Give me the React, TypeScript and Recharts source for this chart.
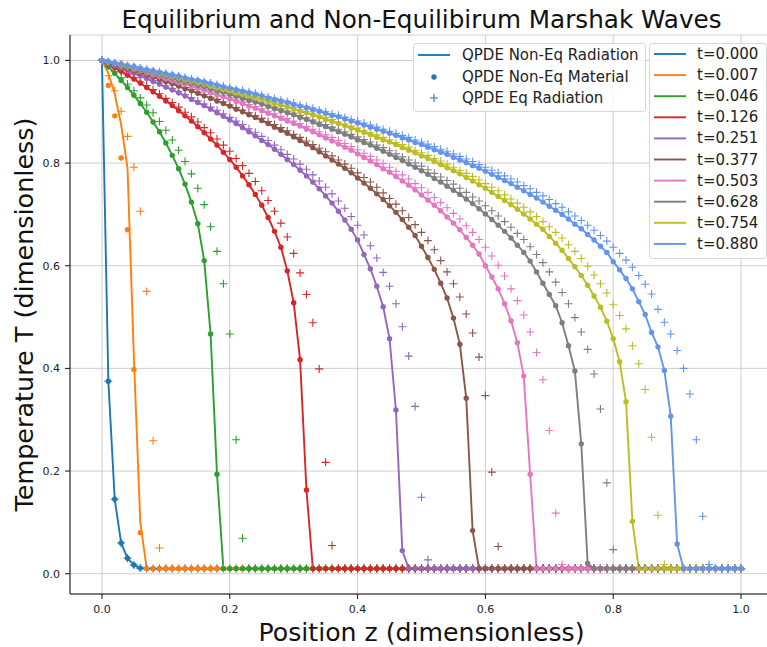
import { ComposedChart, Line, XAxis, YAxis, CartesianGrid } from "recharts";

// floor temperature ahead of every front
const F = 0.01;

const Z = [
  0, 0.01, 0.02, 0.03, 0.04, 0.05, 0.06, 0.07, 0.08, 0.09,
  0.1, 0.11, 0.12, 0.13, 0.14, 0.15, 0.16, 0.17, 0.18, 0.19,
  0.2, 0.21, 0.22, 0.23, 0.24, 0.25, 0.26, 0.27, 0.28, 0.29,
  0.3, 0.31, 0.32, 0.33, 0.34, 0.35, 0.36, 0.37, 0.38, 0.39,
  0.4, 0.41, 0.42, 0.43, 0.44, 0.45, 0.46, 0.47, 0.48, 0.49,
  0.5, 0.51, 0.52, 0.53, 0.54, 0.55, 0.56, 0.57, 0.58, 0.59,
  0.6, 0.61, 0.62, 0.63, 0.64, 0.65, 0.66, 0.67, 0.68, 0.69,
  0.7, 0.71, 0.72, 0.73, 0.74, 0.75, 0.76, 0.77, 0.78, 0.79,
  0.8, 0.81, 0.82, 0.83, 0.84, 0.85, 0.86, 0.87, 0.88, 0.89,
  0.9, 0.91, 0.92, 0.93, 0.94, 0.95, 0.96, 0.97, 0.98, 0.99,
  1,
];

const TIMES = ["0.000", "0.007", "0.046", "0.126", "0.251", "0.377", "0.503", "0.628", "0.754", "0.880"];
const COLORS = ["#1f77b4", "#ff7f0e", "#2ca02c", "#d62728", "#9467bd", "#8c564b", "#e377c2", "#7f7f7f", "#bcbd22", "#6495ed"];
const X_TICKS = [0, 0.2, 0.4, 0.6, 0.8, 1.0];
const Y_TICKS = [0, 0.2, 0.4, 0.6, 0.8, 1.0];

// t = 0.000 (initial profile, same for all three quantities)
const rad000 = [
  1, 0.375, 0.145, 0.06, 0.03, 0.017, 0.011, F, F, F,
  F, F, F, F, F, F, F, F, F, F,
  F, F, F, F, F, F, F, F, F, F,
  F, F, F, F, F, F, F, F, F, F,
  F, F, F, F, F, F, F, F, F, F,
  F, F, F, F, F, F, F, F, F, F,
  F, F, F, F, F, F, F, F, F, F,
  F, F, F, F, F, F, F, F, F, F,
  F, F, F, F, F, F, F, F, F, F,
  F, F, F, F, F, F, F, F, F, F,
  F,
];

// t = 0.007
const rad007 = [
  1, 0.975, 0.935, 0.875, 0.79, 0.42, 0.1, F, F, F,
  F, F, F, F, F, F, F, F, F, F,
  F, F, F, F, F, F, F, F, F, F,
  F, F, F, F, F, F, F, F, F, F,
  F, F, F, F, F, F, F, F, F, F,
  F, F, F, F, F, F, F, F, F, F,
  F, F, F, F, F, F, F, F, F, F,
  F, F, F, F, F, F, F, F, F, F,
  F, F, F, F, F, F, F, F, F, F,
  F, F, F, F, F, F, F, F, F, F,
  F,
];
const mat007 = [
  1, 0.951, 0.892, 0.81, 0.67, 0.398, 0.08, F, F, F,
  F, F, F, F, F, F, F, F, F, F,
  F, F, F, F, F, F, F, F, F, F,
  F, F, F, F, F, F, F, F, F, F,
  F, F, F, F, F, F, F, F, F, F,
  F, F, F, F, F, F, F, F, F, F,
  F, F, F, F, F, F, F, F, F, F,
  F, F, F, F, F, F, F, F, F, F,
  F, F, F, F, F, F, F, F, F, F,
  F, F, F, F, F, F, F, F, F, F,
  F,
];
const eq007 = [
  1, 0.97, 0.941, 0.901, 0.852, 0.792, 0.706, 0.55, 0.259, 0.05,
  F, F, F, F, F, F, F, F, F, F,
  F, F, F, F, F, F, F, F, F, F,
  F, F, F, F, F, F, F, F, F, F,
  F, F, F, F, F, F, F, F, F, F,
  F, F, F, F, F, F, F, F, F, F,
  F, F, F, F, F, F, F, F, F, F,
  F, F, F, F, F, F, F, F, F, F,
  F, F, F, F, F, F, F, F, F, F,
  F, F, F, F, F, F, F, F, F, F,
  F,
];

// t = 0.046
const rad046 = [
  1, 0.988, 0.975, 0.961, 0.947, 0.932, 0.916, 0.899, 0.88, 0.861,
  0.839, 0.815, 0.789, 0.759, 0.724, 0.682, 0.61, 0.467, 0.194, F,
  F, F, F, F, F, F, F, F, F, F,
  F, F, F, F, F, F, F, F, F, F,
  F, F, F, F, F, F, F, F, F, F,
  F, F, F, F, F, F, F, F, F, F,
  F, F, F, F, F, F, F, F, F, F,
  F, F, F, F, F, F, F, F, F, F,
  F, F, F, F, F, F, F, F, F, F,
  F, F, F, F, F, F, F, F, F, F,
  F,
];
const eq046 = [
  1, 0.989, 0.978, 0.966, 0.954, 0.941, 0.927, 0.913, 0.898, 0.881,
  0.864, 0.845, 0.825, 0.803, 0.779, 0.751, 0.719, 0.676, 0.628, 0.565,
  0.467, 0.261, 0.069, F, F, F, F, F, F, F,
  F, F, F, F, F, F, F, F, F, F,
  F, F, F, F, F, F, F, F, F, F,
  F, F, F, F, F, F, F, F, F, F,
  F, F, F, F, F, F, F, F, F, F,
  F, F, F, F, F, F, F, F, F, F,
  F, F, F, F, F, F, F, F, F, F,
  F, F, F, F, F, F, F, F, F, F,
  F,
];

// t = 0.126
const rad126 = [
  1, 0.993, 0.986, 0.979, 0.971, 0.964, 0.956, 0.947, 0.939, 0.93,
  0.921, 0.912, 0.902, 0.892, 0.882, 0.871, 0.859, 0.847, 0.835, 0.821,
  0.807, 0.792, 0.775, 0.758, 0.739, 0.718, 0.694, 0.667, 0.636, 0.59,
  0.528, 0.417, 0.163, F, F, F, F, F, F, F,
  F, F, F, F, F, F, F, F, F, F,
  F, F, F, F, F, F, F, F, F, F,
  F, F, F, F, F, F, F, F, F, F,
  F, F, F, F, F, F, F, F, F, F,
  F, F, F, F, F, F, F, F, F, F,
  F, F, F, F, F, F, F, F, F, F,
  F,
];
const eq126 = [
  1, 0.994, 0.987, 0.98, 0.973, 0.966, 0.958, 0.951, 0.943, 0.935,
  0.926, 0.918, 0.909, 0.899, 0.89, 0.88, 0.869, 0.859, 0.847, 0.835,
  0.823, 0.809, 0.795, 0.78, 0.764, 0.746, 0.727, 0.706, 0.683, 0.656,
  0.624, 0.586, 0.544, 0.489, 0.399, 0.217, 0.055, F, F, F,
  F, F, F, F, F, F, F, F, F, F,
  F, F, F, F, F, F, F, F, F, F,
  F, F, F, F, F, F, F, F, F, F,
  F, F, F, F, F, F, F, F, F, F,
  F, F, F, F, F, F, F, F, F, F,
  F, F, F, F, F, F, F, F, F, F,
  F,
];

// t = 0.251
const rad251 = [
  1, 0.995, 0.99, 0.986, 0.98, 0.975, 0.97, 0.965, 0.959, 0.954,
  0.948, 0.943, 0.937, 0.931, 0.924, 0.918, 0.912, 0.905, 0.898, 0.891,
  0.884, 0.877, 0.869, 0.861, 0.853, 0.844, 0.836, 0.827, 0.817, 0.807,
  0.797, 0.786, 0.775, 0.763, 0.75, 0.736, 0.722, 0.706, 0.689, 0.671,
  0.65, 0.622, 0.594, 0.56, 0.52, 0.458, 0.319, 0.045, F, F,
  F, F, F, F, F, F, F, F, F, F,
  F, F, F, F, F, F, F, F, F, F,
  F, F, F, F, F, F, F, F, F, F,
  F, F, F, F, F, F, F, F, F, F,
  F, F, F, F, F, F, F, F, F, F,
  F,
];
const eq251 = [
  1, 0.995, 0.991, 0.986, 0.981, 0.976, 0.971, 0.966, 0.961, 0.956,
  0.95, 0.945, 0.939, 0.933, 0.927, 0.921, 0.915, 0.909, 0.903, 0.896,
  0.889, 0.882, 0.875, 0.867, 0.86, 0.852, 0.844, 0.835, 0.826, 0.817,
  0.808, 0.798, 0.788, 0.777, 0.765, 0.753, 0.74, 0.726, 0.712, 0.696,
  0.679, 0.66, 0.639, 0.615, 0.587, 0.56, 0.526, 0.481, 0.424, 0.326,
  0.149, 0.027, F, F, F, F, F, F, F, F,
  F, F, F, F, F, F, F, F, F, F,
  F, F, F, F, F, F, F, F, F, F,
  F, F, F, F, F, F, F, F, F, F,
  F, F, F, F, F, F, F, F, F, F,
  F,
];

// t = 0.377
const rad377 = [
  1, 0.996, 0.992, 0.988, 0.984, 0.98, 0.976, 0.972, 0.968, 0.963,
  0.959, 0.955, 0.95, 0.945, 0.941, 0.936, 0.931, 0.926, 0.921, 0.916,
  0.911, 0.905, 0.9, 0.894, 0.889, 0.883, 0.877, 0.87, 0.864, 0.858,
  0.851, 0.844, 0.837, 0.83, 0.822, 0.814, 0.806, 0.798, 0.79, 0.781,
  0.771, 0.761, 0.751, 0.74, 0.729, 0.717, 0.704, 0.69, 0.675, 0.659,
  0.638, 0.616, 0.593, 0.566, 0.537, 0.498, 0.447, 0.342, 0.084, F,
  F, F, F, F, F, F, F, F, F, F,
  F, F, F, F, F, F, F, F, F, F,
  F, F, F, F, F, F, F, F, F, F,
  F, F, F, F, F, F, F, F, F, F,
  F,
];
const eq377 = [
  1, 0.996, 0.993, 0.989, 0.985, 0.981, 0.977, 0.973, 0.969, 0.965,
  0.96, 0.956, 0.952, 0.947, 0.943, 0.938, 0.933, 0.928, 0.924, 0.919,
  0.913, 0.908, 0.903, 0.898, 0.892, 0.887, 0.881, 0.875, 0.869, 0.863,
  0.856, 0.85, 0.843, 0.836, 0.829, 0.822, 0.814, 0.806, 0.798, 0.79,
  0.781, 0.772, 0.763, 0.753, 0.742, 0.731, 0.72, 0.707, 0.694, 0.68,
  0.665, 0.649, 0.631, 0.61, 0.588, 0.565, 0.539, 0.506, 0.469, 0.422,
  0.347, 0.198, 0.053, F, F, F, F, F, F, F,
  F, F, F, F, F, F, F, F, F, F,
  F, F, F, F, F, F, F, F, F, F,
  F, F, F, F, F, F, F, F, F, F,
  F,
];

// t = 0.503
const rad503 = [
  1, 0.997, 0.993, 0.99, 0.987, 0.983, 0.98, 0.976, 0.972, 0.969,
  0.965, 0.961, 0.957, 0.954, 0.95, 0.946, 0.942, 0.937, 0.933, 0.929,
  0.925, 0.92, 0.916, 0.911, 0.907, 0.902, 0.897, 0.892, 0.887, 0.882,
  0.877, 0.872, 0.866, 0.861, 0.855, 0.849, 0.843, 0.837, 0.831, 0.825,
  0.818, 0.811, 0.804, 0.797, 0.789, 0.782, 0.774, 0.765, 0.757, 0.748,
  0.738, 0.728, 0.718, 0.707, 0.695, 0.683, 0.67, 0.655, 0.64, 0.623,
  0.6, 0.578, 0.555, 0.526, 0.493, 0.45, 0.385, 0.194, F, F,
  F, F, F, F, F, F, F, F, F, F,
  F, F, F, F, F, F, F, F, F, F,
  F, F, F, F, F, F, F, F, F, F,
  F,
];
const eq503 = [
  1, 0.997, 0.994, 0.99, 0.987, 0.984, 0.98, 0.977, 0.973, 0.97,
  0.966, 0.962, 0.959, 0.955, 0.951, 0.947, 0.943, 0.939, 0.936, 0.931,
  0.927, 0.923, 0.919, 0.914, 0.91, 0.905, 0.901, 0.896, 0.891, 0.887,
  0.882, 0.877, 0.871, 0.866, 0.861, 0.855, 0.85, 0.844, 0.838, 0.832,
  0.826, 0.819, 0.813, 0.806, 0.799, 0.792, 0.784, 0.777, 0.769, 0.76,
  0.752, 0.743, 0.733, 0.723, 0.713, 0.702, 0.691, 0.678, 0.665, 0.651,
  0.636, 0.619, 0.601, 0.58, 0.555, 0.532, 0.504, 0.471, 0.431, 0.378,
  0.279, 0.118, 0.018, F, F, F, F, F, F, F,
  F, F, F, F, F, F, F, F, F, F,
  F, F, F, F, F, F, F, F, F, F,
  F,
];

// t = 0.628
const rad628 = [
  1, 0.997, 0.994, 0.991, 0.988, 0.985, 0.982, 0.979, 0.976, 0.972,
  0.969, 0.966, 0.962, 0.959, 0.956, 0.952, 0.949, 0.945, 0.941, 0.938,
  0.934, 0.93, 0.926, 0.922, 0.919, 0.915, 0.91, 0.906, 0.902, 0.898,
  0.894, 0.889, 0.885, 0.88, 0.875, 0.871, 0.866, 0.861, 0.856, 0.851,
  0.845, 0.84, 0.835, 0.829, 0.823, 0.817, 0.811, 0.805, 0.798, 0.792,
  0.785, 0.778, 0.77, 0.763, 0.755, 0.747, 0.739, 0.73, 0.721, 0.711,
  0.701, 0.69, 0.679, 0.667, 0.654, 0.64, 0.626, 0.609, 0.588, 0.566,
  0.544, 0.522, 0.489, 0.444, 0.395, 0.253, 0.02, F, F, F,
  F, F, F, F, F, F, F, F, F, F,
  F, F, F, F, F, F, F, F, F, F,
  F,
];
const eq628 = [
  1, 0.997, 0.994, 0.991, 0.988, 0.985, 0.982, 0.979, 0.976, 0.973,
  0.97, 0.967, 0.963, 0.96, 0.957, 0.953, 0.95, 0.947, 0.943, 0.939,
  0.936, 0.932, 0.929, 0.925, 0.921, 0.917, 0.913, 0.909, 0.905, 0.901,
  0.897, 0.893, 0.888, 0.884, 0.88, 0.875, 0.87, 0.866, 0.861, 0.856,
  0.851, 0.846, 0.841, 0.835, 0.83, 0.824, 0.818, 0.812, 0.806, 0.8,
  0.794, 0.787, 0.78, 0.773, 0.766, 0.759, 0.751, 0.743, 0.734, 0.726,
  0.717, 0.707, 0.697, 0.686, 0.675, 0.663, 0.651, 0.637, 0.622, 0.606,
  0.588, 0.568, 0.548, 0.526, 0.499, 0.471, 0.437, 0.389, 0.321, 0.177,
  0.047, F, F, F, F, F, F, F, F, F,
  F, F, F, F, F, F, F, F, F, F,
  F,
];

// t = 0.754
const rad754 = [
  1, 0.997, 0.995, 0.992, 0.989, 0.986, 0.984, 0.981, 0.978, 0.975,
  0.972, 0.969, 0.966, 0.963, 0.96, 0.957, 0.954, 0.95, 0.947, 0.944,
  0.941, 0.937, 0.934, 0.931, 0.927, 0.924, 0.92, 0.916, 0.913, 0.909,
  0.905, 0.901, 0.898, 0.894, 0.89, 0.885, 0.881, 0.877, 0.873, 0.868,
  0.864, 0.86, 0.855, 0.85, 0.845, 0.841, 0.836, 0.83, 0.825, 0.82,
  0.814, 0.809, 0.803, 0.797, 0.791, 0.785, 0.779, 0.772, 0.765, 0.758,
  0.751, 0.743, 0.735, 0.727, 0.719, 0.71, 0.701, 0.691, 0.681, 0.671,
  0.657, 0.644, 0.63, 0.614, 0.598, 0.581, 0.562, 0.541, 0.519, 0.492,
  0.458, 0.413, 0.335, 0.102, F, F, F, F, F, F,
  F, F, F, F, F, F, F, F, F, F,
  F,
];
const eq754 = [
  1, 0.997, 0.995, 0.992, 0.989, 0.987, 0.984, 0.981, 0.978, 0.975,
  0.973, 0.97, 0.967, 0.964, 0.961, 0.958, 0.955, 0.952, 0.948, 0.945,
  0.942, 0.939, 0.936, 0.932, 0.929, 0.925, 0.922, 0.919, 0.915, 0.911,
  0.908, 0.904, 0.9, 0.896, 0.892, 0.889, 0.885, 0.88, 0.876, 0.872,
  0.868, 0.863, 0.859, 0.855, 0.85, 0.845, 0.84, 0.836, 0.831, 0.825,
  0.82, 0.815, 0.809, 0.804, 0.798, 0.792, 0.786, 0.78, 0.774, 0.767,
  0.76, 0.753, 0.746, 0.738, 0.73, 0.722, 0.714, 0.705, 0.696, 0.686,
  0.676, 0.665, 0.654, 0.641, 0.628, 0.614, 0.599, 0.582, 0.565, 0.547,
  0.524, 0.503, 0.477, 0.444, 0.409, 0.359, 0.266, 0.114, 0.018, F,
  F, F, F, F, F, F, F, F, F, F,
  F,
];

// t = 0.880
const rad880 = [
  1, 0.998, 0.995, 0.993, 0.99, 0.988, 0.985, 0.982, 0.98, 0.977,
  0.974, 0.972, 0.969, 0.966, 0.963, 0.961, 0.958, 0.955, 0.952, 0.949,
  0.946, 0.943, 0.94, 0.937, 0.934, 0.931, 0.927, 0.924, 0.921, 0.918,
  0.914, 0.911, 0.908, 0.904, 0.901, 0.897, 0.893, 0.89, 0.886, 0.882,
  0.878, 0.874, 0.87, 0.866, 0.862, 0.858, 0.854, 0.849, 0.845, 0.84,
  0.836, 0.831, 0.826, 0.821, 0.817, 0.811, 0.806, 0.801, 0.795, 0.79,
  0.784, 0.778, 0.772, 0.766, 0.76, 0.753, 0.746, 0.739, 0.732, 0.724,
  0.716, 0.708, 0.7, 0.691, 0.681, 0.672, 0.661, 0.65, 0.638, 0.626,
  0.608, 0.592, 0.575, 0.555, 0.53, 0.505, 0.47, 0.442, 0.396, 0.307,
  0.058, F, F, F, F, F, F, F, F, F,
  F,
];
const eq880 = [
  1, 0.998, 0.995, 0.993, 0.99, 0.988, 0.985, 0.983, 0.98, 0.978,
  0.975, 0.972, 0.97, 0.967, 0.964, 0.962, 0.959, 0.956, 0.953, 0.95,
  0.947, 0.944, 0.942, 0.939, 0.936, 0.933, 0.929, 0.926, 0.923, 0.92,
  0.917, 0.913, 0.91, 0.907, 0.903, 0.9, 0.896, 0.893, 0.889, 0.885,
  0.882, 0.878, 0.874, 0.87, 0.866, 0.862, 0.858, 0.854, 0.85, 0.845,
  0.841, 0.837, 0.832, 0.827, 0.823, 0.818, 0.813, 0.808, 0.803, 0.797,
  0.792, 0.786, 0.781, 0.775, 0.769, 0.763, 0.756, 0.75, 0.743, 0.736,
  0.729, 0.721, 0.714, 0.705, 0.697, 0.688, 0.679, 0.669, 0.659, 0.648,
  0.636, 0.624, 0.611, 0.597, 0.581, 0.564, 0.545, 0.515, 0.49, 0.467,
  0.435, 0.4, 0.35, 0.261, 0.112, 0.018, F, F, F, F,
  F,
];

const RADIATION = [rad000, rad007, rad046, rad126, rad251, rad377, rad503, rad628, rad754, rad880];
// material sits on the radiation curve except at the earliest time
const MATERIAL = [rad000, mat007, rad046, rad126, rad251, rad377, rad503, rad628, rad754, rad880];
const EQUILIBRIUM = [rad000, eq007, eq046, eq126, eq251, eq377, eq503, eq628, eq754, eq880];

const rows = Z.map((z, i) => {
  const row: Record<string, number> = { z };
  TIMES.forEach((_, k) => {
    row[`r${k}`] = RADIATION[k][i];
    row[`m${k}`] = MATERIAL[k][i];
    row[`e${k}`] = EQUILIBRIUM[k][i];
  });
  return row;
});

const FONT = "'DejaVu Sans', Verdana, sans-serif";
const TEXT = "#222";

const dotShape = (color: string) => (p: any) => (
  <circle key={p.key ?? `m${p.index}`} cx={p.cx} cy={p.cy} r={2.7} fill={color} />
);

const plusShape = (color: string) => (p: any) => (
  <path
    key={p.key ?? `e${p.index}`}
    d={`M${p.cx - 4},${p.cy}h8M${p.cx},${p.cy - 4}v8`}
    stroke={color}
    strokeWidth={1.1}
    fill="none"
  />
);

function Legends() {
  const blue = COLORS[0];
  return (
    <svg width={767} height={647} style={{ position: "absolute", left: 0, top: 0, pointerEvents: "none" }}>
      <text x={421.5} y={28} textAnchor="middle" fontFamily={FONT} fontSize={25} fill="#111" textLength={600} lengthAdjust="spacingAndGlyphs">
        Equilibrium and Non-Equilibirum Marshak Waves
      </text>
      <text x={421.5} y={641} textAnchor="middle" fontFamily={FONT} fontSize={25} fill="#111" textLength={326} lengthAdjust="spacingAndGlyphs">
        Position z (dimensionless)
      </text>
      <text
        x={0}
        y={0}
        transform="translate(33,314.5) rotate(-90)"
        textAnchor="middle"
        fontFamily={FONT}
        fontSize={25}
        fill="#111"
        textLength={394}
        lengthAdjust="spacingAndGlyphs"
      >
        Temperature T (dimensionless)
      </text>

      {/* method legend */}
      <rect x={413.5} y={43.5} width={232} height={68} rx={3} fill="#fff" fillOpacity={0.85} stroke="#d6d6d6" />
      <line x1={418} x2={450} y1={55} y2={55} stroke={blue} strokeWidth={1.9} />
      <circle cx={434} cy={77} r={2.7} fill={blue} />
      <path d="M430,98h8M434,94v8" stroke={blue} strokeWidth={1.1} />
      {["QPDE Non-Eq Radiation", "QPDE Non-Eq Material", "QPDE Eq Radiation"].map((label, i) => (
        <text key={label} x={462} y={55 + i * 21.5} dominantBaseline="central" fontFamily={FONT} fontSize={15} fill={TEXT}>
          {label}
        </text>
      ))}

      {/* time legend */}
      <rect x={649.5} y={43.5} width={117} height={215} rx={3} fill="#fff" fillOpacity={0.85} stroke="#d6d6d6" />
      {TIMES.map((t, k) => (
        <g key={t}>
          <line x1={654} x2={686} y1={54 + k * 21.1} y2={54 + k * 21.1} stroke={COLORS[k]} strokeWidth={1.9} />
          <text x={697} y={54 + k * 21.1} dominantBaseline="central" fontFamily={FONT} fontSize={15} fill={TEXT}>
            {`t=${t}`}
          </text>
        </g>
      ))}
    </svg>
  );
}

export default function App() {
  const tick = { fontSize: 11, fill: TEXT, fontFamily: FONT };
  return (
    <div style={{ position: "absolute", left: 0, top: 0, width: 767, height: 647, overflow: "hidden", background: "#fff" }}>
      <ComposedChart width={790} height={647} data={rows} margin={{ top: 35, right: 17, bottom: 0, left: 0 }} style={{ position: "absolute", left: 0, top: 0 }}>
        <CartesianGrid stroke="#c9c9c9" strokeWidth={0.9} />
        <XAxis
          dataKey="z"
          type="number"
          domain={[-0.05, 1.05]}
          ticks={X_TICKS}
          allowDataOverflow
          height={53}
          tickSize={5}
          tickMargin={6}
          tick={tick}
          tickFormatter={(v: number) => v.toFixed(1)}
          axisLine={{ stroke: "#111" }}
          tickLine={{ stroke: "#111" }}
        />
        <XAxis
          xAxisId="top"
          orientation="top"
          dataKey="z"
          type="number"
          domain={[-0.05, 1.05]}
          allowDataOverflow
          height={0}
          tick={false}
          tickLine={false}
          axisLine={{ stroke: "#111" }}
        />
        <YAxis
          type="number"
          domain={[-0.0395, 1.0495]}
          ticks={Y_TICKS}
          allowDataOverflow
          width={70}
          tickSize={5}
          tickMargin={5}
          tick={tick}
          tickFormatter={(v: number) => v.toFixed(1)}
          axisLine={{ stroke: "#111" }}
          tickLine={{ stroke: "#111" }}
        />
        {TIMES.flatMap((t, k) => [
          <Line key={`r${k}`} dataKey={`r${k}`} type="linear" stroke={COLORS[k]} strokeWidth={1.9} dot={false} activeDot={false} isAnimationActive={false} />,
          <Line key={`m${k}`} dataKey={`m${k}`} type="linear" stroke="none" dot={dotShape(COLORS[k])} activeDot={false} isAnimationActive={false} />,
          <Line key={`e${k}`} dataKey={`e${k}`} type="linear" stroke="none" dot={plusShape(COLORS[k])} activeDot={false} isAnimationActive={false} />,
        ])}
      </ComposedChart>
      <Legends />
    </div>
  );
}
